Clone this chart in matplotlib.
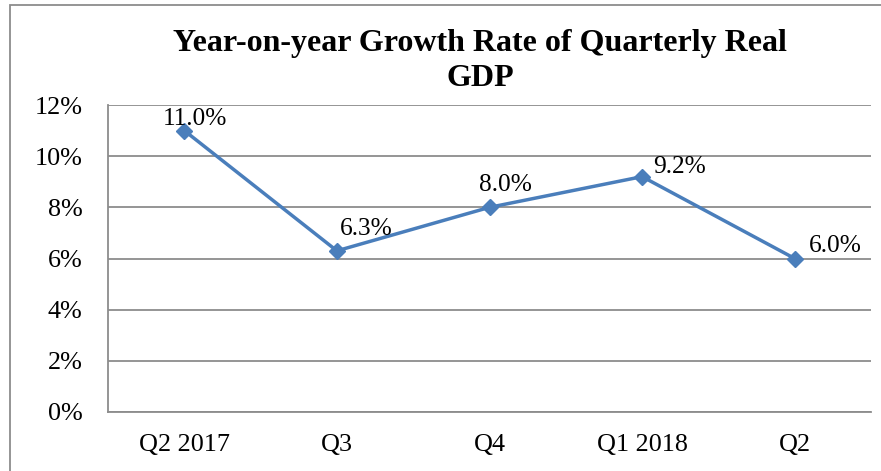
import matplotlib
matplotlib.use("Agg")
import matplotlib.pyplot as plt
from matplotlib.patches import Rectangle
from matplotlib.ticker import FuncFormatter

categories = ["Q2 2017", "Q3", "Q4", "Q1 2018", "Q2"]
growth = [11.0, 6.3, 8.0, 9.2, 6.0]
value_labels = ["11.0%", "6.3%", "8.0%", "9.2%", "6.0%"]
y_ticks = [0, 2, 4, 6, 8, 10, 12]
title_lines = ["Year-on-year Growth Rate of Quarterly Real", "GDP"]

# label offsets in pixels (left edge, baseline) relative to each point
label_offsets = [(-22, 6), (3, 16), (-10, 16), (11, 4), (14, 7)]

W, H = 881, 471
fig = plt.figure(figsize=(W / 100, H / 100), dpi=100)
plt.rcParams['font.family'] = ['Liberation Serif', 'DejaVu Serif']

# outer frame
fig.patches.append(Rectangle((10 / W, -0.1), 2.0, 1.1 - 5 / H, transform=fig.transFigure,
                             fill=False, edgecolor="#8c8c8c", linewidth=1.3))

ax = fig.add_axes([108 / W, 1 - 412 / H, (871 - 108) / W, (412 - 105) / H])
x = list(range(len(categories)))
ax.plot(x, growth, color="#4a7ebb", linewidth=2.5, marker="D", markersize=8,
        markerfacecolor="#4a7ebb", markeredgecolor="#4a7ebb", zorder=3)

for xi, yi, lab, (dx, dy) in zip(x, growth, value_labels, label_offsets):
    ax.annotate(lab, (xi, yi), xytext=(dx, dy), textcoords="offset pixels",
                ha="left", va="baseline", fontsize=18.3, color="black", zorder=4)

ax.set_xlim(-0.5, len(categories) - 0.5)
ax.set_ylim(0, 12)
ax.set_yticks(y_ticks)
ax.yaxis.set_major_formatter(FuncFormatter(lambda v, p: f"{v:.0f}%"))
ax.set_xticks(x)
ax.set_xticklabels(categories)
ax.grid(axis="y", color="#8c8c8c", linewidth=1.3)
ax.set_axisbelow(True)
for s in ["top", "right"]:
    ax.spines[s].set_visible(False)
for s in ["left", "bottom"]:
    ax.spines[s].set_color("#8c8c8c")
    ax.spines[s].set_linewidth(1.3)
ax.tick_params(axis="both", length=0, labelsize=18.8, colors="black")
ax.tick_params(axis="y", pad=18.5)
ax.tick_params(axis="x", pad=16)

fig.text(480 / W, 1 - 51 / H, title_lines[0],
         ha="center", va="baseline", fontsize=23, fontweight="bold", color="black")
fig.text(480 / W, 1 - 86 / H, title_lines[1],
         ha="center", va="baseline", fontsize=23, fontweight="bold", color="black")

fig.savefig("out.png", dpi=100)
